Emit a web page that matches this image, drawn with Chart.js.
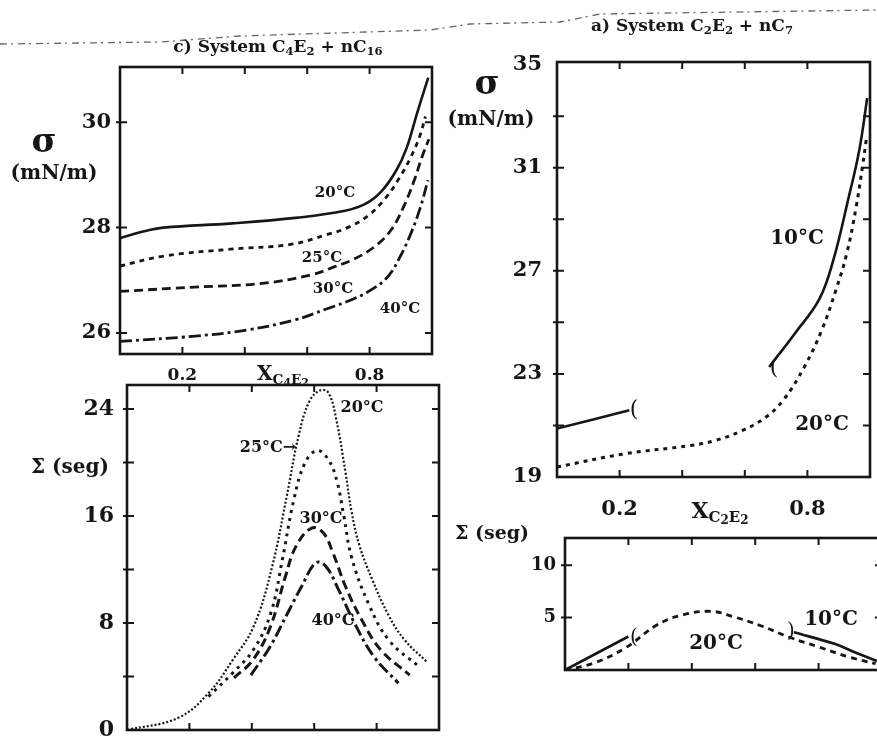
<!DOCTYPE html>
<html>
<head>
<meta charset="utf-8">
<script src="https://cdn.jsdelivr.net/npm/chart.js@4.4.1/dist/chart.umd.min.js"></script>
<style>
  html, body { margin: 0; padding: 0; background: #fff; }
  #page { position: relative; width: 877px; height: 736px; overflow: hidden; background: #fff; }
  #page canvas, #page svg { position: absolute; left: 0; top: 0; }
  .t { position: absolute; transform: translate(-50%, -50%); font-family: 'DejaVu Serif', serif;
       font-weight: bold; color: #161616; white-space: nowrap; line-height: 1; }
  .t sub { font-size: 0.68em; vertical-align: -0.3em; line-height: 0; }
  .t sub sub { font-size: 0.8em; vertical-align: -0.15em; }
  .br { font-weight: normal; }
</style>
</head>
<body>
<div id="page">
  <svg width="877" height="736">
    <polyline points="0,44 160,42 240,36 430,30 470,24 560,22 600,14 877,10"
      fill="none" stroke="#666" stroke-width="1.3" stroke-dasharray="7 4 2 5"/>
  </svg>
  <canvas id="c4Sigma" width="900" height="800"></canvas>
  <canvas id="c4Sum" width="900" height="800"></canvas>
  <canvas id="c2Sigma" width="900" height="800"></canvas>
  <canvas id="c2Sum" width="900" height="800"></canvas>
</div>
<script>
// c) C4E2 + nC16 : surface tension (mN/m) vs mole fraction
const c4SigmaX20 = [0, 0.07, 0.14, 0.36, 0.57, 0.721, 0.786, 0.838, 0.884, 0.918, 0.953, 0.988];
const c4Sigma20  = [27.8, 27.92, 28.0, 28.08, 28.19, 28.32, 28.45, 28.69, 29.07, 29.5, 30.19, 30.85];
const c4SigmaX25 = [0, 0.14, 0.354, 0.546, 0.665, 0.729, 0.794, 0.851, 0.894, 0.934, 0.961, 0.979];
const c4Sigma25  = [27.27, 27.46, 27.59, 27.68, 27.87, 28.0, 28.22, 28.56, 28.93, 29.36, 29.74, 30.11];
const c4SigmaX30 = [0, 0.24, 0.455, 0.617, 0.684, 0.749, 0.814, 0.867, 0.907, 0.942, 0.969, 0.99];
const c4Sigma30  = [26.79, 26.87, 26.94, 27.11, 27.25, 27.4, 27.63, 27.94, 28.37, 28.88, 29.36, 29.68];
const c4SigmaX40 = [0, 0.241, 0.411, 0.562, 0.659, 0.746, 0.811, 0.86, 0.897, 0.931, 0.962, 0.987];
const c4Sigma40  = [25.84, 25.94, 26.06, 26.25, 26.45, 26.64, 26.84, 27.08, 27.44, 27.87, 28.37, 28.9];

// c) C4E2 + nC16 : Σ (seg)
const c4SumX20 = [0, 0.163, 0.261, 0.339, 0.406, 0.465, 0.513, 0.55, 0.585, 0.62, 0.646, 0.671, 0.7, 0.72, 0.745, 0.787, 0.838, 0.889, 0.961];
const c4Sum20  = [0, 0.9, 2.75, 5.25, 7.75, 12.2, 17.6, 22.0, 24.6, 25.4, 25.2, 23.2, 19.3, 16.3, 13.8, 11.2, 8.6, 6.75, 5.1];
const c4SumX25 = [0.261, 0.338, 0.405, 0.461, 0.498, 0.535, 0.571, 0.61, 0.646, 0.673, 0.695, 0.72, 0.775, 0.84, 0.938];
const c4Sum25  = [2.5, 4.25, 6.0, 8.75, 12.75, 17.25, 20.0, 20.9, 20.2, 18.6, 16.0, 12.9, 9.4, 6.7, 4.7];
const c4SumX30 = [0.343, 0.404, 0.46, 0.508, 0.542, 0.592, 0.629, 0.66, 0.7, 0.752, 0.813, 0.906];
const c4Sum30  = [3.9, 5.25, 7.75, 11.5, 13.75, 15.1, 14.75, 13.25, 10.75, 8.25, 6.0, 4.1];
const c4SumX40 = [0.397, 0.459, 0.515, 0.56, 0.605, 0.637, 0.678, 0.729, 0.791, 0.87];
const c4Sum40  = [4.1, 6.25, 8.75, 10.75, 12.5, 12.25, 10.5, 8.0, 5.5, 3.5];

// a) C2E2 + nC7 : surface tension (10 °C has a gap in the middle)
const c2SigmaX10 = [0, 0.231, 0.45, 0.678, 0.76, 0.838, 0.883, 0.93, 0.966, 0.991];
const c2Sigma10  = [20.88, 21.59, null, 23.27, 24.57, 25.9, 27.42, 29.75, 31.7, 33.7];
const c2SigmaX20 = [0, 0.217, 0.431, 0.506, 0.593, 0.668, 0.723, 0.79, 0.846, 0.891, 0.926, 0.956, 0.976, 0.988];
const c2Sigma20  = [19.39, 19.9, 20.23, 20.42, 20.81, 21.33, 21.98, 23.27, 24.7, 26.25, 27.68, 29.49, 31.05, 32.08];

// a) C2E2 + nC7 : Σ (seg)
const c2SumX10 = [0, 0.2, 0.45, 0.722, 0.85, 0.914, 0.99];
const c2Sum10  = [0, 3.2, null, 3.6, 2.5, 1.7, 0.8];
const c2SumX20 = [0, 0.09, 0.19, 0.29, 0.37, 0.46, 0.53, 0.62, 0.71, 0.8, 0.9, 0.98];
const c2Sum20  = [0, 0.65, 2.1, 4.3, 5.25, 5.6, 5.1, 4.2, 3.1, 2.2, 1.2, 0.6];

// tick positions and which of them carry a label
const xTicks = [0.2, 0.4, 0.6, 0.8];
const xTickLabels = [0.2, 0.8];
const c4SigmaTicks = [26, 28, 30];
const c4SumTicks = [0, 4, 8, 12, 16, 20, 24];
const c4SumLabels = [0, 8, 16, 24];
const c2SigmaTicks = [19, 21, 23, 25, 27, 29, 31, 33, 35];
const c2SigmaLabels = [19, 23, 27, 31, 35];
const c2SumTicks = [5, 10];

const ink = '#161616';
const serif = "'DejaVu Serif', serif";

const pts = (xs, ys) => xs.map((x, i) => ({ x, y: ys[i] }));

function line(xs, ys, dash, width) {
  return {
    data: pts(xs, ys),
    borderColor: ink,
    borderWidth: width || 2.6,
    borderDash: dash || [],
    pointRadius: 0,
    fill: false,
    spanGaps: false,
    tension: 0.4
  };
}

// box around the plot area with short inward ticks on every side
const framePlugin = {
  id: 'frame',
  afterDatasetsDraw(chart) {
    const { ctx, chartArea: a, scales: { x, y } } = chart;
    const len = 7;
    ctx.save();
    ctx.strokeStyle = ink;
    ctx.lineWidth = 2.6;
    ctx.strokeRect(a.left, a.top, a.width, a.height);
    ctx.lineWidth = 2;
    ctx.beginPath();
    x.ticks.forEach(t => {
      const px = x.getPixelForValue(t.value);
      if (px < a.left + 4 || px > a.right - 4) return;
      ctx.moveTo(px, a.bottom); ctx.lineTo(px, a.bottom - len);
      ctx.moveTo(px, a.top); ctx.lineTo(px, a.top + len);
    });
    y.ticks.forEach(t => {
      const py = y.getPixelForValue(t.value);
      if (py < a.top + 4 || py > a.bottom - 4) return;
      ctx.moveTo(a.left - 4, py); ctx.lineTo(a.left + len, py);
      ctx.moveTo(a.right, py); ctx.lineTo(a.right - len, py);
    });
    ctx.stroke();
    ctx.restore();
  }
};

// frame = [left, top, right, bottom] of the plot box on the page
function panel(id, frame, cfg) {
  const [l, t, r, b] = frame;
  const yW = 70;
  const near = (list, v) => list.some(w => Math.abs(w - v) < 1e-9);
  new Chart(document.getElementById(id), {
    type: 'line',
    data: { datasets: cfg.datasets },
    options: {
      responsive: false,
      animation: false,
      events: [],
      layout: { padding: { left: l - yW, top: t, right: 900 - r, bottom: 800 - b - cfg.xH } },
      plugins: { legend: { display: false }, tooltip: { enabled: false } },
      scales: {
        x: {
          type: 'linear', min: 0, max: 1,
          afterBuildTicks: s => { s.ticks = xTicks.map(v => ({ value: v })); },
          afterFit: s => { s.height = cfg.xH; },
          ticks: {
            autoSkip: false, maxRotation: 0, color: ink, padding: cfg.xPad,
            font: { family: serif, weight: 'bold', size: cfg.xFont },
            callback: v => (cfg.xLabels && near(cfg.xLabels, v)) ? v.toFixed(1) : ''
          },
          grid: { display: false, drawTicks: false },
          border: { display: false }
        },
        y: {
          type: 'linear', min: cfg.yMin, max: cfg.yMax,
          afterBuildTicks: s => { s.ticks = cfg.yTicks.map(v => ({ value: v })); },
          afterFit: s => { s.width = yW; },
          ticks: {
            autoSkip: false, color: ink, padding: cfg.yPad,
            font: { family: serif, weight: 'bold', size: cfg.yFont },
            callback: v => near(cfg.yLabels, v) ? String(v) : ''
          },
          grid: { display: false, drawTicks: false },
          border: { display: false }
        }
      }
    },
    plugins: [framePlugin]
  });
}

panel('c4Sigma', [120, 67, 432, 354], {
  yMin: 25.6, yMax: 31.05, yTicks: c4SigmaTicks, yLabels: c4SigmaTicks,
  yFont: 21, yPad: 9, xH: 40, xPad: 11, xFont: 17, xLabels: xTickLabels,
  datasets: [
    line(c4SigmaX20, c4Sigma20),
    line(c4SigmaX25, c4Sigma25, [5, 5], 2.8),
    line(c4SigmaX30, c4Sigma30, [9, 5], 2.8),
    line(c4SigmaX40, c4Sigma40, [12, 4, 3, 4], 2.8)
  ]
});

panel('c4Sum', [127, 385, 439, 730], {
  yMin: 0, yMax: 25.8, yTicks: c4SumTicks, yLabels: c4SumLabels,
  yFont: 22, yPad: 13, xH: 16, xPad: 4, xFont: 16,
  datasets: [
    line(c4SumX20, c4Sum20, [2, 2], 2.2),
    line(c4SumX25, c4Sum25, [3, 5], 3),
    line(c4SumX30, c4Sum30, [9, 5], 3),
    line(c4SumX40, c4Sum40, [12, 4, 3, 4], 3)
  ]
});

panel('c2Sigma', [557, 62, 870, 477], {
  yMin: 19, yMax: 35.1, yTicks: c2SigmaTicks, yLabels: c2SigmaLabels,
  yFont: 21, yPad: 15, xH: 50, xPad: 20, xFont: 21, xLabels: xTickLabels,
  datasets: [
    line(c2SigmaX10, c2Sigma10, [], 2.6),
    line(c2SigmaX20, c2Sigma20, [4, 5], 3)
  ]
});

panel('c2Sum', [565, 538, 882, 670], {
  yMin: 0, yMax: 12.6, yTicks: c2SumTicks, yLabels: c2SumTicks,
  yFont: 18, yPad: 9, xH: 16, xPad: 4, xFont: 16,
  datasets: [
    line(c2SumX10, c2Sum10, [], 2.6),
    line(c2SumX20, c2Sum20, [6, 5], 2.8)
  ]
});

// titles, axis names and curve labels
const texts = [
  ['c) System C<sub>4</sub>E<sub>2</sub> + nC<sub>16</sub>', 278, 46, 17],
  ['a) System C<sub>2</sub>E<sub>2</sub> + nC<sub>7</sub>', 692, 25, 17],
  ['σ', 44, 140, 34],
  ['(mN/m)', 54, 172, 20],
  ['σ', 487, 82, 34],
  ['(mN/m)', 491, 118, 20],
  ['Σ (seg)', 70, 466, 20],
  ['Σ (seg)', 492, 532, 19],
  ['X<sub>C<sub>4</sub>E<sub>2</sub></sub>', 283, 373, 20],
  ['X<sub>C<sub>2</sub>E<sub>2</sub></sub>', 720, 510, 22],
  ['20°C', 335, 192, 15], ['25°C', 322, 257, 15], ['30°C', 333, 288, 15], ['40°C', 400, 308, 15],
  ['20°C', 362, 407, 16], ['25°C→', 268, 447, 16], ['30°C', 321, 518, 16], ['40°C', 333, 620, 16],
  ['10°C', 797, 237, 20], ['20°C', 822, 423, 20],
  ['20°C', 716, 642, 20], ['10°C', 831, 618, 20],
  ['<span class="br">(</span>', 634, 408, 22],
  ['<span class="br">(</span>', 774, 366, 22],
  ['<span class="br">(</span>', 634, 636, 20],
  ['<span class="br">)</span>', 791, 630, 20]
];
const page = document.getElementById('page');
texts.forEach(([html, x, y, size]) => {
  const d = document.createElement('div');
  d.className = 't';
  d.innerHTML = html;
  d.style.left = x + 'px';
  d.style.top = y + 'px';
  d.style.fontSize = size + 'px';
  page.appendChild(d);
});
</script>
</body>
</html>
